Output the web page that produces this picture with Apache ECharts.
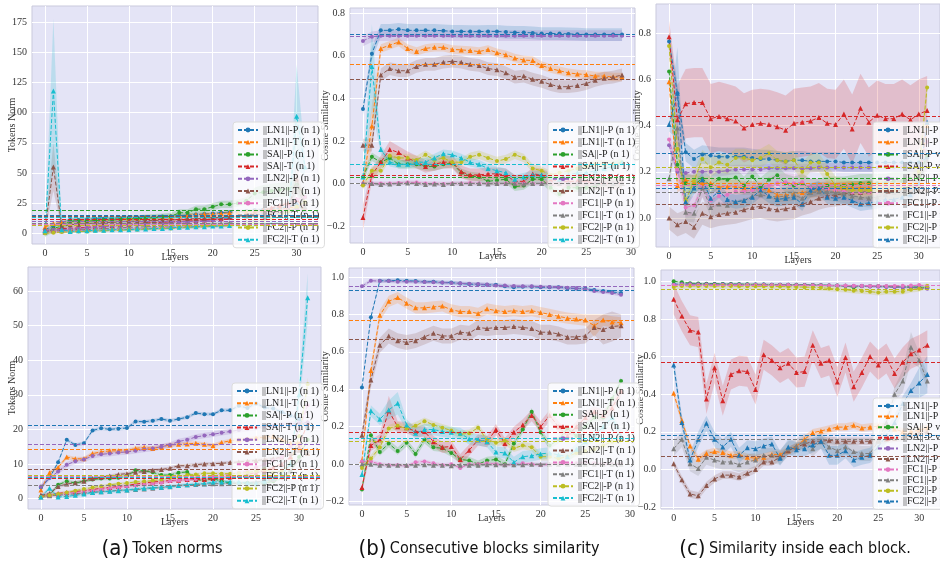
<!DOCTYPE html>
<html style="height: 100%;">
<head>
    <meta charset="UTF-8">
    <script src="https://cdn.jsdelivr.net/npm/echarts@6/dist/echarts.min.js"></script>
</head>
<body style="height: 100%; margin: 0; background: #fff;">
    <div id="chart" style="width: 940px; height: 567px;"></div>

    <script type="text/javascript">
        // tab10 colours, the last "vs T" series in (c) wraps back to blue
        var colorsAB = ['#1f77b4', '#ff7f0e', '#2ca02c', '#d62728', '#9467bd', '#8c564b', '#e377c2', '#7f7f7f', '#bcbd22', '#17becf'];
        var colorsC = ['#1f77b4', '#ff7f0e', '#2ca02c', '#d62728', '#9467bd', '#8c564b', '#e377c2', '#7f7f7f', '#bcbd22', '#1f77b4'];
        var markers = ['circle', 'triangle', 'circle', 'triangle', 'circle', 'triangle', 'circle', 'triangle', 'circle', 'triangle'];

        var namesAB = ['||LN1||-P (n 1)', '||LN1||-T (n 1)', '||SA||-P (n 1)', '||SA||-T (n 1)', '||LN2||-P (n 1)',
                       '||LN2||-T (n 1)', '||FC1||-P (n 1)', '||FC1||-T (n 1)', '||FC2||-P (n 1)', '||FC2||-T (n 1)'];
        var namesC = ['||LN1||-P vs P', '||LN1||-P vs T', '||SA||-P vs P', '||SA||-P vs T', '||LN2||-P vs P',
                      '||LN2||-P vs T', '||FC1||-P vs P', '||FC1||-P vs T', '||FC2||-P vs P', '||FC2||-P vs T'];

        var layerTicks = [0, 5, 10, 15, 20, 25, 30];
        var normTopTicks = [0, 25, 50, 75, 100, 125, 150, 175];
        var normBotTicks = [0, 10, 20, 30, 40, 50, 60];
        var simTopTicks = [-0.2, 0, 0.2, 0.4, 0.6, 0.8];
        var simBotTicks = [-0.2, 0, 0.2, 0.4, 0.6, 0.8, 1.0];

        // (a) token norms, top model (layers 0..31)
        var normsTop = [
            [3,6,9,11,11,11.5,12,12,12.5,12.5,13,13,13.5,13.5,14,14,14.5,15,15.5,16,16.5,17,17.5,18,18.5,19,19.5,20,21,22,24,18],
            [5,8,9,10,10,10.5,11,11,11.5,12,12,12.5,13,13,13.5,14,14.5,15,15.5,16,16,16.5,17,17.5,18,18.5,19,19.5,20,21,22,20],
            [0,4,6,10,10,10,10.5,11,11,11.5,12,12,12.5,13,13.5,14,17,17,20,20,22,24,24,25,27,33,34,35,36,37,40,30],
            [2,3,4,4,4.5,5,5.5,6,6.5,7,7.5,8,8.5,9,9,9.5,10,10,10.5,11,11.5,12,13,14,15,17,19,21,23,25,28,20],
            [2,3,3,3.5,4,4.5,5,5.5,6,6.5,7,7,7.5,8,8,8.5,9,9.5,10,10.5,11,12,12.5,13,14,15,16,17,18,19,20,18],
            [3,55,6,7,7.5,8,8.5,9,9,9.5,10,10,10.5,10.5,11,11,11.5,12,12,12.5,13,13,13.5,14,14,15,16,17,18,20,45,25],
            [1,1,1.5,2,2,2.5,2.5,3,3,3.5,3.5,4,4,4.5,4.5,5,5,5.5,5.5,6,6,6.5,7,8,9,10,12,14,17,22,28,30],
            [1,2,2,2.5,3,3,3.5,4,4,4.5,5,5,5.5,5.5,6,6,6.5,7,7,7.5,8,8,8.5,9,10,11,12,14,16,19,40,22],
            [0,0.5,1,1,1.5,1.5,2,2,2.5,2.5,3,3,3.5,3.5,4,4,4.5,5,5,5.5,6,6,6.5,7,8,9,10,12,15,18,22,26],
            [2,118,3,1.5,2,2,2.5,2.5,3,3,3,3.5,3.5,4,4,4.5,5,5,5.5,5.5,6,6,6.5,7,7,7.5,8,8.5,9,12,97,55]
        ];
        var normsTopSpread = [1.5, 1.5, 3, 1.5, 1.2, 2, 1.5, 1.5, 1, 1.2];
        var normsTopPeaks = [[9,1,60],[9,30,43],[9,31,8],[5,1,20],[5,30,12],[7,30,8],[2,25,5],[2,26,6],[2,27,6],[2,28,6],[2,29,6],[2,30,6]];

        // (a) token norms, bottom model
        var normsBot = [
            [3.2,6,10.5,17,15.5,16,19.7,20.3,20,20.2,20.4,22.3,22.2,22.5,23,22.5,23,23.5,24.7,24.4,24.4,25.5,25.5,26.8,26.2,27.5,26.3,26,25,24,23,20.2],
            [2.5,7.5,9,12,11.5,11.5,13,13.5,13.8,13.8,13.8,14.5,14.8,14.5,15,15.5,15.7,15.8,16,15.7,15.3,16.2,16.7,17,17.2,17.5,17.8,18,17,16,16,13],
            [0.5,1,4,5,4.5,5,5.5,5.8,5.8,6,6.5,8.2,8,7.6,6.8,6.8,7.5,7.7,5.5,5.2,5.8,5,4.5,4.3,4.5,4,4.5,5,6,8,12,17],
            [1,1,1.5,1.8,2,2.3,2.6,3,3.2,3.5,3.8,4.2,4.5,4.8,5,5.2,5.3,5.5,5.5,5.5,5.8,6,6.2,6.5,7,7.5,8,9,10,12,15,22],
            [3.5,6,7.8,9.8,10.8,11.3,12.3,12.8,13,13.3,13.5,13.8,14.2,14.5,15,15.5,16.5,17,17.8,18.2,18.6,19,19.4,19.8,20.2,20.5,20.8,21,21.3,21.5,21.8,22],
            [1,1.5,3.5,4.2,4.6,5,5.8,6.2,6.5,7,7.2,7.6,7.8,8.2,8.4,8.8,9.5,9.5,9.8,10,10.1,10.2,10.4,10.6,10.8,11,11.3,11.5,12,13,14,13],
            [0.5,1,1.2,1.5,1.8,2,2.3,2.6,3,3.2,3.5,3.8,4,4.3,4.6,5,5.3,5.5,5.7,6,6.3,6.6,7,7.5,8,9,10,11,12,15,20,27],
            [0.5,0.8,1,1.2,1.4,1.6,1.8,2,2.2,2.4,2.5,2.6,2.8,3,3.2,3.4,3.8,4,4.1,4.2,4.3,4.3,4.4,4.5,4.6,4.8,5,5.5,6.5,8,11,14],
            [0.5,1,1.3,1.8,2.3,2.8,3.2,3.6,4,4.3,4.5,4.8,5,5.2,5.5,6,6.3,6.8,7,7.3,7.3,7.2,7.2,7.3,7.5,8,8.5,7.5,8,10,18,33],
            [0.5,3,0.5,0.6,1,1.3,1.8,2,2.1,2.3,2.5,2.8,3,3.2,3.3,3.5,3.8,4,4.2,4.3,4.8,4.8,4.8,4.8,4.5,4.5,5,6,7,10,30,58]
        ];
        var normsBotSpread = [0.5, 0.6, 0.5, 0.4, 0.8, 0.5, 0.5, 0.3, 0.4, 0.5];
        var normsBotPeaks = [[9,31,7],[9,30,4],[8,31,2],[6,31,2]];

        // (b) consecutive blocks similarity, top model (layers 0..29)
        var consTop = [
            [0.35,0.61,0.72,0.72,0.725,0.72,0.72,0.72,0.72,0.718,0.715,0.715,0.714,0.714,0.715,0.715,0.712,0.71,0.71,0.708,0.705,0.705,0.705,0.703,0.702,0.70,0.70,0.70,0.70,0.70],
            [0.0,0.27,0.635,0.65,0.665,0.635,0.62,0.635,0.64,0.64,0.63,0.628,0.625,0.62,0.63,0.615,0.605,0.59,0.58,0.578,0.555,0.54,0.53,0.52,0.515,0.512,0.505,0.505,0.50,0.50],
            [0.03,0.125,0.10,0.12,0.09,0.09,0.09,0.08,0.08,0.09,0.095,0.05,0.035,0.03,0.01,0.015,0.02,-0.015,-0.01,0.02,0.02,-0.02,-0.05,-0.02,-0.02,-0.02,-0.01,0.0,0.0,0.0],
            [-0.16,0.04,0.10,0.16,0.145,0.12,0.10,0.08,0.09,0.10,0.10,0.055,0.04,0.04,0.045,0.045,0.04,0.01,0.01,0.045,0.04,0.02,0.01,0.01,0.01,0.01,0.0,0.0,0.0,0.0],
            [0.67,0.69,0.695,0.695,0.695,0.695,0.695,0.695,0.695,0.695,0.695,0.695,0.695,0.695,0.695,0.695,0.695,0.695,0.695,0.695,0.695,0.695,0.695,0.695,0.695,0.695,0.695,0.695,0.695,0.695],
            [0.18,0.18,0.51,0.54,0.53,0.53,0.55,0.56,0.56,0.57,0.575,0.57,0.56,0.555,0.54,0.535,0.52,0.50,0.505,0.49,0.48,0.465,0.455,0.455,0.46,0.47,0.485,0.495,0.50,0.51],
            [0.0,0.0,0.0,0.0,0.002,0.005,0.005,0.0,0.0,-0.002,0.0,0.0,0.002,0.0,0.0,0.0,0.0,0.0,0.0,0.0,0.0,0.0,0.0,0.0,0.0,0.0,0.0,0.0,0.0,0.0],
            [0.0,0.0,-0.005,-0.003,0.0,0.002,0.0,-0.005,-0.003,-0.005,0.0,0.0,0.0,0.0,-0.002,0.0,0.0,0.0,-0.003,0.0,0.0,0.0,0.0,0.0,0.0,0.0,0.0,0.0,0.0,0.0],
            [-0.01,0.06,0.06,0.13,0.12,0.12,0.11,0.135,0.11,0.12,0.10,0.10,0.125,0.135,0.12,0.105,0.115,0.135,0.12,0.07,0.06,0.04,0.05,0.06,0.07,0.08,0.09,0.09,0.09,0.10],
            [0.03,0.55,0.16,0.10,0.09,0.09,0.10,0.10,0.12,0.14,0.135,0.12,0.10,0.09,0.07,0.06,0.05,0.02,0.03,0.04,0.04,0.03,0.02,0.04,0.05,0.05,0.06,0.07,0.08,0.10]
        ];
        var consTopSpread = [0.03, 0.02, 0.02, 0.03, 0.025, 0.03, 0.01, 0.008, 0.02, 0.02];
        var consTopPeaks = [[9,1,0.2],[3,0,0.06],[3,3,0.04],[1,1,0.1]];

        // (b) consecutive blocks similarity, bottom model
        var consBot = [
            [0.41,0.785,0.98,0.98,0.982,0.98,0.978,0.975,0.975,0.97,0.97,0.965,0.962,0.96,0.958,0.958,0.95,0.945,0.948,0.948,0.945,0.945,0.945,0.94,0.938,0.938,0.93,0.925,0.92,0.915],
            [0.02,0.50,0.795,0.87,0.89,0.86,0.835,0.835,0.84,0.845,0.825,0.815,0.815,0.805,0.83,0.82,0.815,0.82,0.815,0.82,0.81,0.80,0.79,0.78,0.775,0.77,0.74,0.77,0.76,0.755],
            [-0.135,0.155,0.065,0.11,0.07,0.115,0.055,0.13,0.09,0.085,0.06,0.025,0.02,0.0,0.02,0.025,0.0,0.11,0.185,0.28,0.17,0.10,0.13,0.19,0.15,0.20,0.25,0.25,0.35,0.445],
            [-0.125,0.10,0.13,0.285,0.20,0.195,0.175,0.175,0.12,0.09,0.095,0.025,0.075,0.13,0.12,0.185,0.11,0.17,0.21,0.26,0.20,0.26,0.20,0.15,0.20,0.25,0.28,0.26,0.30,0.39],
            [0.95,0.98,0.978,0.978,0.975,0.975,0.974,0.973,0.972,0.97,0.968,0.966,0.964,0.962,0.96,0.955,0.954,0.952,0.951,0.95,0.948,0.946,0.944,0.942,0.94,0.935,0.925,0.92,0.915,0.905],
            [0.155,0.45,0.635,0.685,0.66,0.65,0.66,0.68,0.70,0.685,0.685,0.705,0.70,0.73,0.725,0.73,0.73,0.735,0.73,0.725,0.705,0.705,0.695,0.68,0.68,0.685,0.73,0.72,0.735,0.74],
            [0.015,0.015,0.0,-0.005,-0.005,-0.01,0.01,0.015,0.005,-0.005,0.0,-0.02,0.0,0.0,0.005,0.0,-0.005,0.0,0.005,0.0,-0.005,0.0,0.005,0.0,0.005,0.01,0.005,0.0,0.0,0.0],
            [0.0,0.0,-0.005,-0.005,-0.005,-0.005,-0.005,-0.003,-0.005,-0.005,-0.008,-0.005,-0.005,-0.005,-0.003,-0.003,-0.003,-0.003,-0.003,0.0,0.0,0.0,0.0,0.0,0.0,0.0,0.0,0.0,0.0,0.0],
            [-0.02,0.03,0.09,0.19,0.205,0.19,0.205,0.23,0.21,0.195,0.18,0.16,0.165,0.195,0.13,0.115,0.125,0.085,0.10,0.09,0.04,0.04,0.03,0.04,0.06,0.07,0.08,0.10,0.12,0.13],
            [-0.055,0.285,0.24,0.29,0.325,0.21,0.165,0.185,0.185,0.175,0.17,0.165,0.135,0.13,0.12,0.065,0.06,0.01,0.04,0.045,0.055,0.06,0.05,0.04,0.08,0.12,0.15,0.20,0.25,0.15]
        ];
        var consBotSpread = [0.01, 0.03, 0.02, 0.03, 0.01, 0.04, 0.01, 0.008, 0.02, 0.03];
        var consBotPeaks = [[3,3,0.08],[9,4,0.06],[9,3,0.05],[1,26,0.06],[5,27,0.08],[5,28,0.08],[5,29,0.06]];

        // (c) similarity inside each block, top model (layers 0..31)
        var innerTop = [
            [0.765,0.54,0.285,0.255,0.275,0.27,0.265,0.265,0.265,0.265,0.26,0.255,0.255,0.25,0.245,0.25,0.25,0.245,0.245,0.245,0.245,0.24,0.24,0.24,0.24,0.24,0.24,0.24,0.24,0.24,0.24,0.26],
            [0.59,0.14,0.165,0.155,0.15,0.15,0.135,0.135,0.135,0.13,0.13,0.125,0.12,0.10,0.10,0.105,0.11,0.115,0.125,0.13,0.125,0.13,0.13,0.13,0.13,0.13,0.13,0.13,0.13,0.13,0.14,0.40],
            [0.635,0.23,0.15,0.145,0.17,0.14,0.17,0.165,0.175,0.14,0.18,0.135,0.165,0.185,0.15,0.14,0.15,0.13,0.13,0.14,0.14,0.14,0.145,0.15,0.15,0.15,0.15,0.16,0.16,0.17,0.18,0.27],
            [0.785,0.425,0.495,0.50,0.50,0.43,0.44,0.43,0.42,0.39,0.405,0.41,0.405,0.395,0.38,0.41,0.415,0.42,0.435,0.41,0.405,0.45,0.385,0.475,0.415,0.445,0.43,0.43,0.45,0.425,0.45,0.465],
            [0.315,0.20,0.195,0.20,0.20,0.20,0.20,0.205,0.21,0.21,0.21,0.21,0.215,0.215,0.215,0.215,0.215,0.215,0.218,0.218,0.218,0.218,0.218,0.218,0.218,0.218,0.22,0.22,0.22,0.22,0.22,0.22],
            [0.0,-0.03,-0.015,-0.04,0.02,0.005,0.015,0.02,0.025,0.035,0.045,0.05,0.04,0.035,0.04,0.045,0.06,0.07,0.085,0.095,0.10,0.105,0.11,0.11,0.115,0.12,0.12,0.12,0.12,0.12,0.12,0.12],
            [0.34,0.21,0.045,0.055,0.13,0.075,0.095,0.10,0.115,0.115,0.12,0.12,0.14,0.15,0.155,0.15,0.155,0.13,0.13,0.125,0.12,0.115,0.11,0.11,0.11,0.11,0.12,0.12,0.14,0.16,0.20,0.33],
            [0.17,0.39,0.025,0.02,0.13,0.045,0.06,0.055,0.07,0.075,0.095,0.10,0.095,0.09,0.095,0.10,0.085,0.11,0.115,0.115,0.11,0.105,0.095,0.09,0.085,0.09,0.10,0.11,0.12,0.13,0.15,0.25],
            [0.745,0.30,0.075,0.16,0.255,0.22,0.24,0.23,0.26,0.26,0.25,0.26,0.28,0.25,0.245,0.25,0.20,0.24,0.24,0.19,0.14,0.13,0.12,0.12,0.12,0.12,0.12,0.12,0.13,0.14,0.20,0.565],
            [0.405,0.54,0.07,0.13,0.165,0.085,0.115,0.08,0.07,0.075,0.09,0.12,0.095,0.08,0.085,0.09,0.06,0.12,0.13,0.09,0.085,0.09,0.075,0.06,0.065,0.07,0.08,0.08,0.09,0.10,0.15,0.415]
        ];
        var innerTopSpread = [0.04, 0.03, 0.04, 0.15, 0.02, 0.05, 0.04, 0.04, 0.04, 0.03];
        var innerTopPeaks = [[9,1,0.2],[3,0,0.07]];

        // (c) similarity inside each block, bottom model
        var innerBot = [
            [0.985,0.985,0.985,0.985,0.985,0.985,0.985,0.984,0.984,0.983,0.983,0.983,0.982,0.982,0.981,0.981,0.98,0.98,0.979,0.978,0.977,0.976,0.975,0.975,0.974,0.973,0.972,0.971,0.97,0.969,0.968,0.967],
            [0.405,0.26,0.125,0.055,0.085,0.095,0.09,0.075,0.08,0.065,0.06,0.065,0.08,0.08,0.10,0.125,0.16,0.195,0.205,0.215,0.225,0.225,0.235,0.22,0.225,0.23,0.225,0.215,0.20,0.20,0.21,0.22],
            [1.0,0.995,0.99,0.988,0.987,0.986,0.985,0.985,0.984,0.984,0.983,0.983,0.982,0.982,0.981,0.981,0.98,0.98,0.979,0.978,0.977,0.976,0.968,0.975,0.974,0.973,0.972,0.971,0.97,0.969,0.968,0.965],
            [0.905,0.815,0.74,0.73,0.375,0.54,0.365,0.505,0.525,0.52,0.425,0.61,0.58,0.54,0.565,0.515,0.52,0.66,0.565,0.58,0.465,0.595,0.44,0.515,0.60,0.555,0.59,0.51,0.57,0.615,0.635,0.66],
            [0.98,0.985,0.985,0.984,0.984,0.983,0.983,0.983,0.982,0.982,0.981,0.981,0.98,0.98,0.98,0.979,0.979,0.978,0.978,0.977,0.976,0.975,0.974,0.973,0.972,0.971,0.97,0.969,0.968,0.966,0.964,0.96],
            [0.03,-0.055,-0.13,-0.14,-0.085,-0.05,-0.03,-0.03,-0.04,-0.02,0.0,0.04,0.04,0.065,0.10,0.12,0.135,0.15,0.15,0.155,0.15,0.15,0.15,0.15,0.15,0.155,0.16,0.165,0.17,0.18,0.19,0.20],
            [0.98,0.98,0.98,0.98,0.98,0.98,0.98,0.98,0.98,0.98,0.98,0.98,0.98,0.98,0.98,0.979,0.979,0.979,0.978,0.978,0.977,0.977,0.976,0.976,0.975,0.975,0.975,0.975,0.976,0.977,0.98,0.975],
            [0.11,0.16,0.03,0.005,0.065,0.05,0.04,0.04,0.025,0.04,0.05,0.075,0.075,0.065,0.11,0.125,0.15,0.11,0.15,0.12,0.10,0.12,0.095,0.085,0.085,0.15,0.25,0.40,0.47,0.65,0.58,0.47],
            [0.97,0.975,0.975,0.975,0.975,0.975,0.975,0.975,0.974,0.974,0.973,0.973,0.972,0.972,0.971,0.97,0.969,0.968,0.966,0.962,0.958,0.955,0.95,0.948,0.945,0.94,0.945,0.945,0.945,0.955,0.96,0.975],
            [0.555,0.25,0.05,0.16,0.245,0.16,0.12,0.16,0.075,0.115,0.11,0.125,0.135,0.06,0.12,0.105,0.11,0.13,0.15,0.075,0.075,0.10,0.05,0.065,0.075,0.12,0.18,0.25,0.35,0.42,0.46,0.505]
        ];
        var innerBotSpread = [0.005, 0.02, 0.005, 0.08, 0.005, 0.02, 0.005, 0.04, 0.015, 0.04];
        var innerBotPeaks = [[7,29,0.08],[7,28,0.06],[9,19,0.05],[9,20,0.05],[9,31,0.1],[9,30,0.08]];

        var serif = 'Liberation Serif';
        var option = {
            animation: false,
            grid: [], xAxis: [], yAxis: [], series: [], legend: [],
            graphic: []
        };

        function hexAlpha(hex, a) {
            var n = parseInt(hex.slice(1), 16);
            return 'rgba(' + (n >> 16) + ',' + ((n >> 8) & 255) + ',' + (n & 255) + ',' + a + ')';
        }

        function addPanel(p) {
            var gi = option.grid.length;
            option.grid.push({
                left: p.box[0], top: p.box[1], width: p.box[2], height: p.box[3],
                show: true, backgroundColor: '#e4e4f6', borderColor: '#c9c9dc', borderWidth: 1
            });
            option.xAxis.push({
                type: 'value', gridIndex: gi, min: p.x[0], max: p.x[1],
                name: 'Layers', nameLocation: 'middle', nameGap: 8, nameMoveOverlap: false,
                nameTextStyle: { fontFamily: serif, fontSize: 10, color: '#333' },
                axisLine: { show: false },
                axisTick: { show: false, customValues: layerTicks },
                axisLabel: { customValues: layerTicks, fontFamily: serif, fontSize: 10, color: '#333', margin: 4 },
                splitLine: { show: true, lineStyle: { color: '#ffffff', width: 1 } }
            });
            option.yAxis.push({
                type: 'value', gridIndex: gi, min: p.y[0], max: p.y[1],
                name: p.yName, nameLocation: 'middle', nameGap: p.nameGap, nameMoveOverlap: false,
                nameTextStyle: { fontFamily: serif, fontSize: 10, color: '#333' },
                axisLine: { show: false },
                axisTick: { show: false, customValues: p.yTicks },
                axisLabel: {
                    customValues: p.yTicks, fontFamily: serif, fontSize: 10, color: '#333', margin: 5,
                    formatter: function (v) { return p.fmt(v).replace('-', '\u2212'); }
                },
                splitLine: { show: true, lineStyle: { color: '#ffffff', width: 1 } }
            });

            p.rows.forEach(function (vals, k) {
                var col = p.colors[k];
                var sd = vals.map(function () { return p.spread[k]; });
                p.peaks.forEach(function (pk) { if (pk[0] === k) sd[pk[1]] = pk[2]; });
                // shaded spread band, one polygon per series
                option.series.push({
                    type: 'custom', xAxisIndex: gi, yAxisIndex: gi, silent: true, z: 1, clip: true,
                    data: [[0, vals[0]]],
                    renderItem: function (params, api) {
                        var pts = [];
                        for (var i = 0; i < vals.length; i++) pts.push(api.coord([i, vals[i] + sd[i]]));
                        for (var j = vals.length - 1; j >= 0; j--) pts.push(api.coord([j, vals[j] - sd[j]]));
                        return { type: 'polygon', shape: { points: pts }, style: { fill: hexAlpha(col, 0.2) } };
                    }
                });
                option.series.push({
                    type: 'line', name: p.names[k], xAxisIndex: gi, yAxisIndex: gi, z: 3,
                    data: vals.map(function (v, i) { return [i, v]; }),
                    symbol: markers[k], symbolSize: markers[k] === 'circle' ? 4 : 5,
                    itemStyle: { color: col },
                    lineStyle: { color: col, width: 1, type: [4, 2] },
                    markLine: {
                        silent: true, symbol: ['none', 'none'], label: { show: false },
                        lineStyle: { color: col, width: 1, type: [4, 2] },
                        data: [{ type: 'average' }]
                    }
                });
            });

            option.legend.push({
                data: p.names, orient: 'vertical', left: p.legend[0], top: p.legend[1],
                itemWidth: 20, itemHeight: 6, itemGap: p.legend[2],
                backgroundColor: 'rgba(255,255,255,0.78)', borderColor: '#dcdcdc', borderWidth: 1, borderRadius: 3,
                padding: [3, 4, 3, 4], selectedMode: false,
                textStyle: { fontFamily: serif, fontSize: 10, color: '#222' }
            });
        }

        var fmtInt = function (v) { return String(Math.round(v)); };
        var fmt1 = function (v) { return v.toFixed(1); };

        addPanel({ box: [32, 6, 286, 238], x: [-1.55, 32.55], y: [-8.9, 188.5], yTicks: normTopTicks, fmt: fmtInt,
                   yName: 'Tokens Norm', nameGap: 15, rows: normsTop, spread: normsTopSpread, peaks: normsTopPeaks,
                   names: namesAB, colors: colorsAB, legend: [233, 122, 2.2] });
        addPanel({ box: [350, 8, 285, 235], x: [-1.45, 30.45], y: [-0.28, 0.825], yTicks: simTopTicks, fmt: fmt1,
                   yName: 'Cosine Similarity', nameGap: 20, rows: consTop, spread: consTopSpread, peaks: consTopPeaks,
                   names: namesAB, colors: colorsAB, legend: [548, 122, 2.2] });
        addPanel({ box: [656, 4, 289, 243], x: [-1.57, 32.55], y: [-0.126, 0.927], yTicks: simTopTicks, fmt: fmt1,
                   yName: 'Cosine Similarity', nameGap: 14, rows: innerTop, spread: innerTopSpread, peaks: innerTopPeaks,
                   names: namesC, colors: colorsC, legend: [873, 122, 2.2] });
        addPanel({ box: [28, 267, 293, 242], x: [-1.5, 32.55], y: [-3, 66.9], yTicks: normBotTicks, fmt: fmtInt,
                   yName: 'Tokens Norm', nameGap: 11, rows: normsBot, spread: normsBotSpread, peaks: normsBotPeaks,
                   names: namesAB, colors: colorsAB, legend: [232, 383, 2.2] });
        addPanel({ box: [349, 268, 285, 237], x: [-1.45, 30.45], y: [-0.218, 1.048], yTicks: simBotTicks, fmt: fmt1,
                   yName: 'Cosine Similarity', nameGap: 19, rows: consBot, spread: consBotSpread, peaks: consBotPeaks,
                   names: namesAB, colors: colorsAB, legend: [548, 383, 1.9] });
        addPanel({ box: [661, 270, 287, 239], x: [-1.55, 32.55], y: [-0.21, 1.06], yTicks: simBotTicks, fmt: fmt1,
                   yName: 'Cosine Similarity', nameGap: 16, rows: innerBot, spread: innerBotSpread, peaks: innerBotPeaks,
                   names: namesC, colors: colorsC, legend: [873, 398, 0.6] });

        // sub-figure captions
        var captions = [['(a)', 'Token norms', 162], ['(b)', 'Consecutive blocks similarity', 479], ['(c)', 'Similarity inside each block.', 795]];
        captions.forEach(function (c) {
            option.graphic.push({
                type: 'text', x: c[2], y: 549,
                style: {
                    text: '{p|' + c[0] + '} {t|' + c[1] + '}', align: 'center', verticalAlign: 'middle',
                    rich: {
                        p: { fontFamily: 'Liberation Sans Narrow, DejaVu Sans Condensed, sans-serif', fontSize: 22, fill: '#111' },
                        t: { fontFamily: 'Liberation Sans Narrow, DejaVu Sans Condensed, sans-serif', fontSize: 16, fill: '#111' }
                    }
                }
            });
        });

        var chart = echarts.init(document.getElementById('chart'));
        chart.setOption(option);
        window.addEventListener('resize', chart.resize);
    </script>
</body>
</html>
